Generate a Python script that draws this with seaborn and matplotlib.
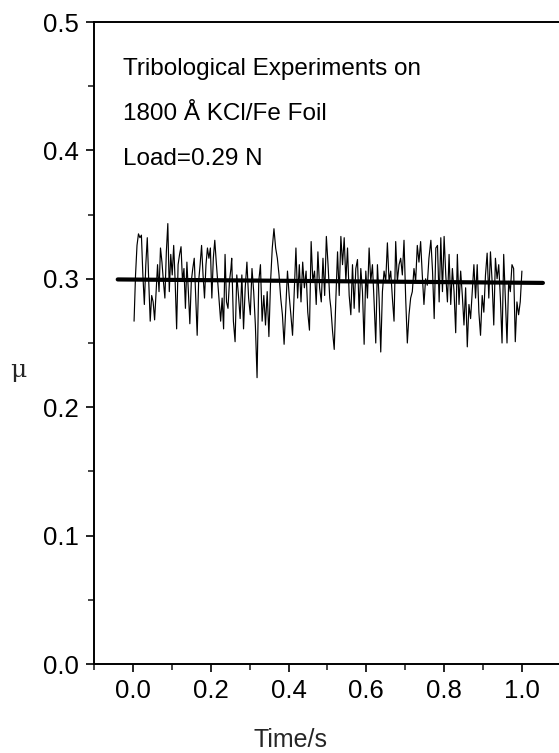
import numpy as np
import pandas as pd
import matplotlib
matplotlib.use("Agg")
import matplotlib.pyplot as plt
import seaborn as sns
from matplotlib.ticker import MultipleLocator

# ---- data ----
seg1_mu = [0.267,0.303,0.326,0.335,0.332,0.334,0.303,0.280,0.311,0.332,0.298,0.267,0.287,0.282,0.268,0.290,
           0.311,0.290,0.324,0.313,0.298,0.285,0.321,0.343,0.290,0.319,0.303,0.326,0.298,0.261,0.311,0.319,
           0.325,0.298,0.308,0.277,0.313,0.290,0.265,0.298,0.308,0.316,0.287,0.256,0.298,0.311,0.326,0.303,
           0.285,0.311,0.324,0.316,0.324,0.285,0.316,0.330,0.313,0.298,0.282,0.267,0.285,0.261,0.319,0.282,
           0.277,0.298,0.308]
seg2_mu = [0.316,0.267,0.251,0.303,0.287,0.269,0.303,0.261,0.293,0.313,0.285,0.272,0.308,0.290,0.264,0.223,
           0.298,0.311,0.267,0.287,0.264,0.290,0.255,0.298,0.324,0.339,0.324,0.316,0.303,0.285,0.272,0.249,
           0.277,0.306,0.287,0.272,0.256,0.290,0.324,0.285,0.311,0.282,0.313,0.293,0.306,0.274,0.260,0.329,
           0.298,0.306,0.280,0.321,0.293,0.282,0.316,0.287,0.333,0.311,0.285]
seg3_mu = [0.277,0.259,0.245,0.285,0.321,0.287,0.333,0.311,0.332,0.298,0.324,0.287,0.272,0.311,0.277,0.308,
           0.315,0.274,0.308,0.290,0.249,0.306,0.285,0.324,0.298,0.311,0.282,0.250,0.311,0.285,0.243,0.290,
           0.306,0.298,0.328,0.298,0.306,0.285,0.267,0.329,0.298,0.311,0.316,0.303,0.330,0.285,0.250,0.272,
           0.285,0.290,0.308,0.298,0.326,0.313,0.329,0.303,0.280,0.300,0.295,0.316]
seg4_mu = [0.330,0.306,0.269,0.324,0.326,0.282,0.332,0.290,0.333,0.303,0.282,0.319,0.280,0.308,0.290,0.258,
           0.319,0.280,0.306,0.287,0.264,0.293,0.247,0.280,0.269,0.290,0.311,0.285,0.311,0.274,0.256,0.287,
           0.274,0.303,0.320,0.285,0.321,0.298,0.264,0.316,0.300,0.311,0.285,0.250,0.319,0.285,0.250,0.298,
           0.290,0.311,0.308,0.251,0.282,0.272,0.282,0.306]
seg_time_ranges = [(0.003, 0.252), (0.254, 0.506), (0.509, 0.761), (0.766, 1.000)]

fit_time = [-0.039, 1.054]
fit_mu = [0.2995, 0.2968]

annotation_lines = ["Tribological Experiments on", "1800 Å KCl/Fe Foil", "Load=0.29 N"]
x_ticks = [0.0, 0.2, 0.4, 0.6, 0.8, 1.0]
y_ticks = [0.0, 0.1, 0.2, 0.3, 0.4, 0.5]

# ---- build table ----
times, mus = [], []
for (t0, t1), seg in zip(seg_time_ranges, [seg1_mu, seg2_mu, seg3_mu, seg4_mu]):
    times.extend(np.linspace(t0, t1, len(seg)))
    mus.extend(seg)
df = pd.DataFrame({"time": times, "mu": mus})
df_fit = pd.DataFrame({"time": fit_time, "mu": fit_mu})

sns.set_style("ticks")
plt.rcParams["font.family"] = ["Liberation Sans", "DejaVu Sans"]
plt.rcParams["axes.linewidth"] = 1.4

W, H = 559, 753
fig = plt.figure(figsize=(W / 100, H / 100), dpi=100)
left, right, top, bottom = 94, 560.8, 22, 664
ax = fig.add_axes([left / W, 1 - bottom / H, (right - left) / W, (bottom - top) / H])

sns.lineplot(data=df, x="time", y="mu", ax=ax, color="black", linewidth=0.85,
             estimator=None, sort=False)
sns.lineplot(data=df_fit, x="time", y="mu", ax=ax, color="black", linewidth=3.0,
             estimator=None, sort=False)

ax.set_xlim(-0.1, 1.1)
ax.set_ylim(0.0, 0.5)
ax.set_xticks(x_ticks)
ax.set_yticks(y_ticks)
ax.set_xticklabels([f"{v:.1f}" for v in x_ticks])
ax.set_yticklabels([f"{v:.1f}" for v in y_ticks])
ax.xaxis.set_minor_locator(MultipleLocator(0.1))
ax.yaxis.set_minor_locator(MultipleLocator(0.05))
ax.tick_params(which="major", direction="out", length=6, width=1.2, labelsize=18.5,
               colors="black", pad=5)
ax.tick_params(which="minor", direction="out", length=4, width=1.2)
ax.set_xlabel("")
ax.set_ylabel("")
for s in ax.spines.values():
    s.set_color("black")

# annotation text
for i, line in enumerate(annotation_lines):
    ax.text(123 / W, 1 - (75 + 45 * i) / H, line, transform=fig.transFigure,
            fontsize=17.5, color="black", ha="left", va="baseline")

fig.text(290 / W, 1 - 747 / H, "Time/s", fontsize=18, ha="center", va="baseline")
fig.text(18 / W, 1 - 370 / H, "μ", fontsize=18, ha="center", va="center",
         family=["DejaVu Serif", "DejaVu Sans"])

fig.savefig("out.png", dpi=100)
